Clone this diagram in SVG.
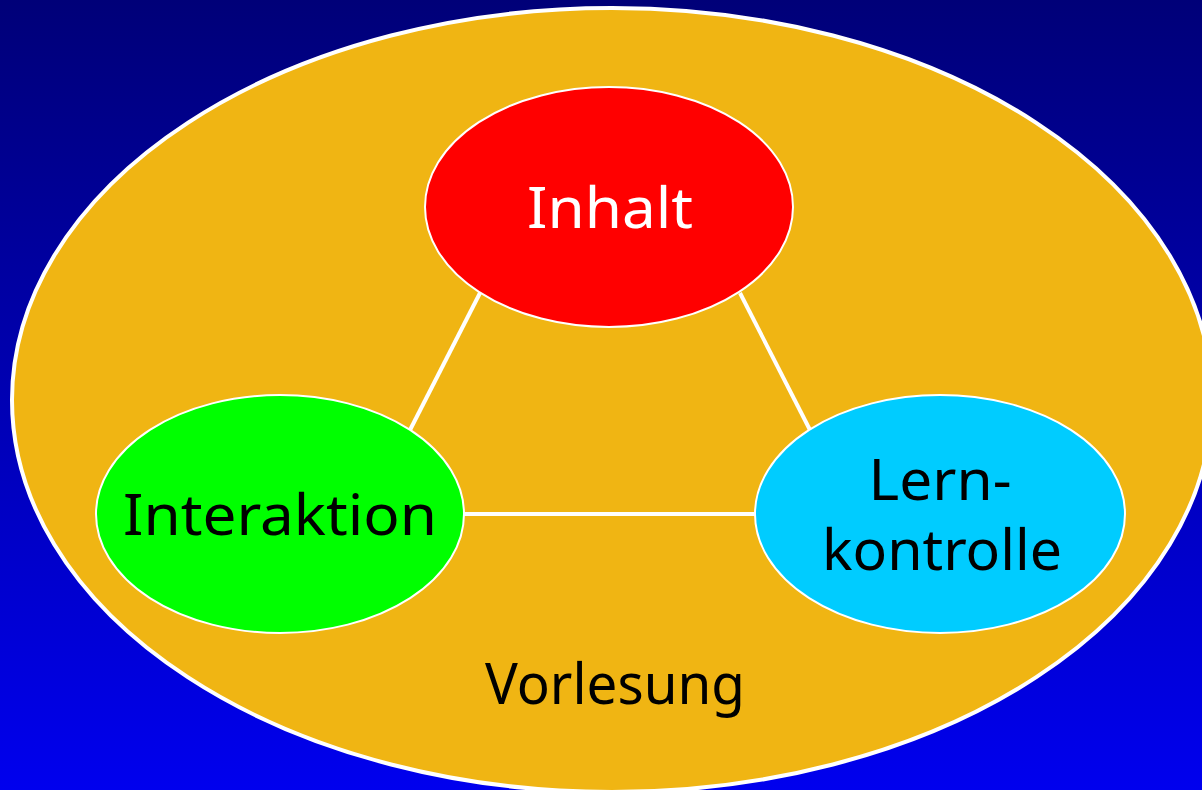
<svg xmlns="http://www.w3.org/2000/svg" width="1202" height="790" viewBox="0 0 1202 790">
<defs>
<linearGradient id="bg" x1="0" y1="0" x2="0" y2="1">
<stop offset="0" stop-color="#000078"/>
<stop offset="1" stop-color="#0000ee"/>
</linearGradient>
</defs>
<style>
.lbl{font-family:"Comic Sans MS","Noto Sans","Liberation Sans",sans-serif;font-size:56px;text-anchor:middle}
.node{stroke:#ffffff;stroke-width:2}
.conn{stroke:#ffffff;stroke-width:4;fill:none}
</style>
<rect x="0" y="0" width="1202" height="790" fill="url(#bg)"/>
<g id="vorlesung">
<ellipse cx="612" cy="400" rx="600" ry="392" fill="#f0b513" stroke="#ffffff" stroke-width="4"/>
<text class="lbl" x="615" y="704" fill="#000000" textLength="260" lengthAdjust="spacingAndGlyphs">Vorlesung</text>
</g>
<g id="connectors">
<line class="conn" x1="480" y1="293" x2="410" y2="430"/>
<line class="conn" x1="740" y1="293" x2="810" y2="430"/>
<line class="conn" x1="464" y1="514" x2="755" y2="514"/>
</g>
<g id="inhalt">
<ellipse class="node" cx="609" cy="207" rx="184" ry="120" fill="#ff0000"/>
<text class="lbl" x="610" y="228" fill="#ffffff" textLength="166" lengthAdjust="spacingAndGlyphs">Inhalt</text>
</g>
<g id="interaktion">
<ellipse class="node" cx="280" cy="514" rx="184" ry="119" fill="#00ff00"/>
<text class="lbl" x="280" y="535" fill="#000000" textLength="314" lengthAdjust="spacingAndGlyphs">Interaktion</text>
</g>
<g id="lernkontrolle">
<ellipse class="node" cx="940" cy="514" rx="185" ry="119" fill="#00ccff"/>
<text class="lbl" x="940" y="500" fill="#000000" textLength="143" lengthAdjust="spacingAndGlyphs">Lern-</text>
<text class="lbl" x="942" y="570" fill="#000000" textLength="240" lengthAdjust="spacingAndGlyphs">kontrolle</text>
</g>
</svg>
